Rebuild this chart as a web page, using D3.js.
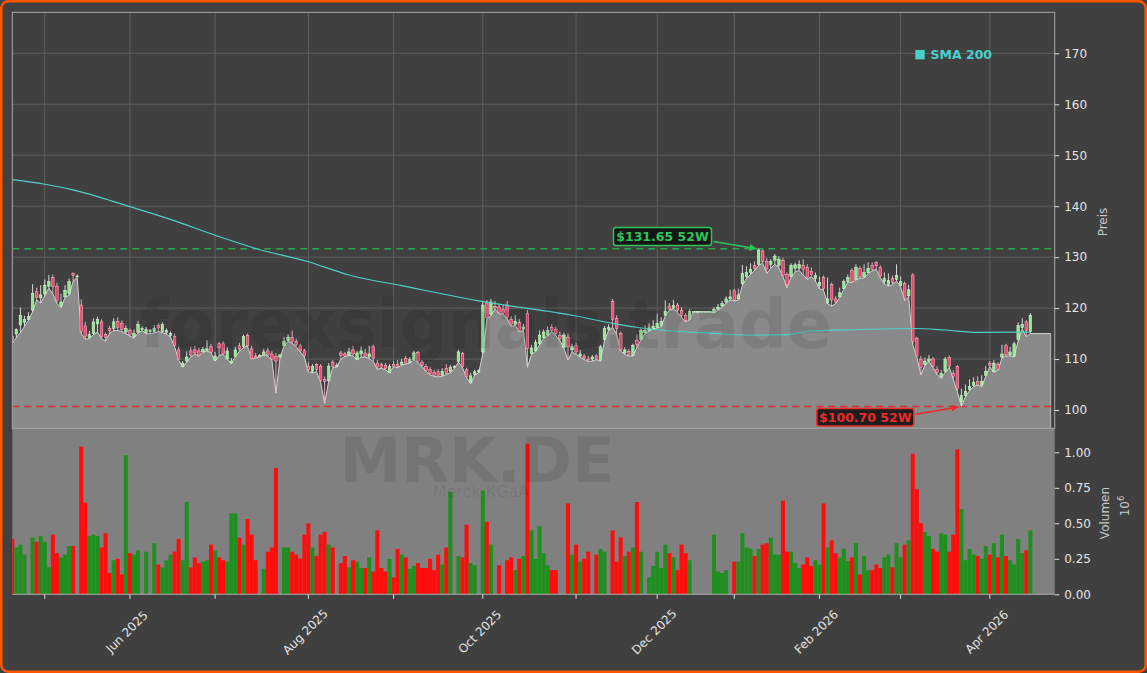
<!DOCTYPE html>
<html><head><meta charset="utf-8">
<script src="https://cdn.jsdelivr.net/npm/d3@7"></script>
<style>
html,body{margin:0;padding:0;background:#404040;}
svg{display:block;font-family:"DejaVu Sans",sans-serif;}
</style></head><body>
<svg id="chart" width="1147" height="673"></svg>
<script>
// ---------------- DATA ----------------
const opens = [
114.4,114.9,116.7,117.2,117.8,119.6,123.2,122.0,122.8,124.3,
126.0,124.3,120.5,122.2,122.9,126.8,126.2,120.6,116.5,114.2,
115.0,116.9,117.3,114.8,116.0,116.0,117.4,117.0,115.3,115.6,
114.4,115.3,115.8,115.2,115.4,115.4,116.6,115.4,115.2,114.6,
114.4,111.8,108.6,109.6,111.6,111.8,111.6,111.4,111.7,112.4,
109.8,113.0,113.0,110.0,109.2,110.5,112.6,112.5,114.6,112.0,
110.6,110.5,110.8,111.6,111.0,110.5,110.4,112.6,113.6,114.2,
113.4,112.6,111.6,108.6,107.6,108.9,108.6,106.0,105.7,109.4,
108.6,111.2,111.0,110.8,111.8,109.9,111.0,111.2,110.4,112.4,
109.2,108.9,108.8,107.4,108.9,109.0,108.9,110.1,109.3,109.9,
111.3,109.4,108.5,108.0,107.4,107.5,106.8,108.2,107.6,108.4,
109.5,111.1,107.9,105.4,107.0,107.5,111.4,121.0,118.8,120.3,
120.2,119.8,120.6,117.8,116.8,117.2,115.9,119.0,111.1,111.6,
113.0,114.2,114.7,116.2,115.8,114.6,112.3,114.3,111.8,112.6,
110.6,110.6,110.0,110.0,110.6,109.7,113.8,115.8,121.3,118.0,
115.0,111.2,111.5,110.7,113.7,113.9,115.2,115.6,116.0,116.2,
116.6,118.6,120.4,120.0,120.6,119.5,118.6,117.8,119.3,119.3,
119.3,119.3,119.3,119.2,119.8,120.4,121.2,121.8,123.4,121.8,
124.8,126.2,127.0,128.4,128.6,131.2,129.2,128.6,129.4,128.4,
129.4,126.6,126.2,127.8,127.8,128.4,128.0,127.2,125.8,124.4,
126.0,121.0,124.6,121.8,122.2,123.8,125.2,127.4,125.6,127.8,
126.1,127.0,128.4,129.0,128.0,125.2,124.6,125.8,125.6,124.4,
124.8,122.4,126.5,114.1,110.0,108.9,109.6,110.0,108.0,106.6,
107.6,110.3,107.2,108.5,101.6,102.8,104.0,104.8,105.6,104.9,
106.8,109.2,107.6,109.0,110.4,112.6,110.8,110.6,113.8,116.2,
117.3,115.4];
const highs = [
115.0,116.0,120.1,118.5,119.2,124.7,124.0,124.5,125.6,126.5,
126.6,125.0,122.8,124.5,125.8,127.0,126.6,121.7,117.3,115.5,
118.0,118.3,117.8,115.2,116.5,118.0,118.2,117.6,116.6,116.0,
115.8,117.5,116.4,116.3,115.9,116.6,117.0,117.2,116.0,115.4,
115.0,112.4,109.6,111.5,112.4,112.6,112.2,112.4,113.7,113.0,
111.4,113.3,113.5,112.3,110.2,112.4,113.2,114.8,115.0,112.6,
111.2,111.0,112.0,112.2,111.6,111.2,111.0,114.3,114.8,115.6,
114.0,113.0,112.0,109.4,109.0,109.2,109.0,106.6,109.2,109.8,
109.2,111.6,111.4,112.2,112.6,111.6,112.5,112.0,112.6,112.8,
109.8,109.3,109.2,109.0,109.6,109.8,110.0,110.6,110.4,111.6,
111.6,109.8,109.0,108.4,107.9,108.0,108.2,109.0,108.8,108.8,
111.8,111.4,108.3,107.3,107.9,108.0,121.4,121.6,121.8,121.4,
120.8,120.6,121.4,118.4,118.6,117.8,116.9,119.6,112.8,113.8,
115.6,115.8,116.4,116.8,116.4,115.4,115.2,115.0,113.0,113.2,
111.8,111.0,110.6,110.8,111.0,112.8,116.5,116.8,121.8,118.6,
115.4,112.3,112.0,113.0,114.8,116.0,116.6,117.0,117.6,118.9,
118.2,121.5,121.0,121.6,121.0,120.2,119.0,119.8,119.3,119.3,
119.3,119.3,119.3,120.2,120.8,121.4,122.3,123.6,123.8,123.8,
128.5,128.2,128.8,129.2,131.65,131.5,129.8,129.6,130.6,130.2,
129.9,127.0,128.8,128.9,129.4,129.6,128.6,128.0,127.0,126.2,
126.4,126.0,125.0,122.4,124.0,125.6,126.6,127.8,128.6,128.2,
128.6,129.0,129.0,129.2,128.4,127.0,126.8,126.4,128.6,126.2,
125.2,124.6,126.8,114.4,110.6,110.3,110.8,110.4,108.6,107.8,
110.4,110.7,107.8,108.8,104.2,105.0,106.0,106.4,106.6,106.8,
108.6,109.6,109.8,109.4,112.8,113.0,112.4,113.4,117.2,118.0,
117.6,119.0];
const lows = [
113.1,114.2,115.2,116.4,117.6,119.3,121.6,121.0,122.4,123.9,
122.8,120.9,120.1,122.1,122.5,125.3,126.0,115.0,113.9,114.0,
114.8,115.3,114.0,113.5,115.1,115.6,115.6,115.4,115.0,114.5,
114.1,115.1,115.6,115.0,115.0,115.1,115.4,115.2,114.9,114.3,
112.5,109.8,108.4,109.4,110.4,111.0,110.5,111.3,111.6,111.2,
109.6,110.7,110.9,110.0,109.1,110.5,111.5,112.3,112.5,110.0,
110.2,110.4,110.8,110.6,109.8,103.3,110.2,112.5,113.5,113.1,
112.4,111.4,110.4,107.5,107.3,107.5,105.5,101.3,105.6,108.3,
108.4,110.0,110.5,110.7,110.6,109.8,110.4,110.4,110.1,109.5,
108.0,108.2,107.9,107.3,108.5,108.3,108.8,109.0,109.2,109.8,
109.3,108.6,107.6,106.9,106.6,106.5,106.6,107.0,107.3,108.2,
109.4,108.3,106.4,105.2,106.8,107.3,111.0,117.7,118.6,119.8,
118.9,118.8,117.9,116.4,116.6,115.3,115.7,108.4,110.9,111.5,
112.8,114.1,114.5,115.4,114.6,113.6,112.2,109.8,111.4,110.9,
110.4,109.9,109.5,109.6,109.9,109.6,113.6,115.6,116.2,114.9,
111.6,110.9,110.6,110.6,112.3,113.8,115.0,115.5,115.9,116.1,
116.4,118.5,119.6,119.9,119.1,118.2,117.3,117.7,119.3,119.3,
119.3,119.3,119.3,119.1,119.6,120.2,121.0,121.6,121.4,121.6,
124.5,125.8,126.6,127.4,128.4,128.8,126.8,127.8,128.6,127.9,
126.2,124.0,126.0,127.1,127.4,126.5,125.6,126.2,125.3,123.8,
123.5,120.9,120.4,120.9,122.1,123.7,125.1,125.0,125.5,125.9,
125.9,126.8,127.3,127.6,126.0,124.7,124.3,124.6,125.3,124.2,
121.5,122.2,112.8,110.4,106.9,108.8,109.5,108.4,107.0,106.2,
107.4,108.4,106.0,103.6,100.7,102.6,103.8,104.6,104.9,104.6,
106.6,108.5,107.4,107.8,110.2,110.6,110.6,110.4,113.6,115.9,
114.4,115.0];
const closes = [
113.6,115.8,118.6,117.8,118.4,122.9,122.1,122.6,124.5,125.2,
124.2,121.5,121.2,123.5,125.2,126.4,126.3,115.4,114.4,114.8,
117.3,117.8,114.4,114.2,115.6,117.3,116.2,115.8,116.0,114.8,
115.0,116.8,116.0,115.8,115.6,116.0,116.1,116.8,115.6,115.0,
112.7,110.0,109.2,110.4,110.8,111.2,110.8,111.9,112.0,111.3,
110.6,112.2,111.0,111.6,109.6,111.8,112.0,114.4,112.6,110.1,
110.3,110.7,111.4,110.8,110.0,109.6,110.8,113.4,114.3,113.4,
112.9,111.6,110.6,107.9,108.6,108.0,105.8,105.6,108.6,108.6,
108.8,110.7,110.6,111.4,111.0,111.2,111.6,110.6,111.0,110.2,
108.4,108.4,108.1,108.5,108.6,108.6,109.4,109.2,109.9,111.2,
109.6,108.8,107.8,107.2,106.8,106.8,107.6,107.2,108.4,108.5,
111.4,108.5,106.6,106.7,107.5,107.7,120.6,118.2,121.2,120.0,
119.2,119.0,118.2,116.8,117.4,115.6,116.3,112.1,112.2,113.2,
114.7,115.3,115.6,115.6,115.0,114.0,114.7,112.4,112.4,111.4,
111.0,110.2,109.8,110.4,110.1,112.4,116.0,116.2,117.8,116.0,
111.8,111.8,110.9,112.7,112.9,115.6,115.6,116.1,116.4,117.0,
117.4,119.4,119.8,120.5,119.6,118.6,117.6,119.3,119.3,119.3,
119.3,119.3,119.3,119.7,120.2,120.9,121.8,122.2,121.6,122.6,
126.8,127.0,127.6,127.8,131.4,129.2,127.7,129.2,130.2,129.6,
126.4,124.6,128.4,128.5,128.6,127.6,126.0,126.6,126.4,125.0,
123.8,121.8,121.6,121.2,123.0,125.2,126.0,125.2,128.0,126.1,
127.0,127.8,127.6,128.3,126.3,125.8,125.4,125.0,126.4,125.2,
122.0,123.6,113.4,110.6,108.4,109.6,110.0,108.6,107.4,107.2,
110.0,108.6,106.6,104.2,102.8,103.6,104.6,105.4,105.0,105.6,
107.6,108.8,109.2,108.0,111.0,110.8,111.4,113.0,116.6,116.8,
115.6,118.6];
// volume in millions
const volumes = [
0.39,0.33,0.35,0.28,0,0.40,0.37,0.41,0.37,0.19,
0.42,0.29,0.26,0.28,0.34,0.34,0,1.04,0.645,0.41,
0.42,0.41,0.33,0.43,0.15,0.24,0.25,0.14,0.98,0.29,
0.28,0.31,0,0.30,0,0.36,0.21,0.19,0.24,0.28,
0.30,0.39,0.24,0.65,0.19,0.26,0.22,0.23,0.24,0.35,
0.31,0.26,0.24,0.23,0.57,0.57,0.40,0.35,0.53,0.42,
0.24,0,0.18,0.30,0.33,0.89,0,0.33,0.33,0.30,
0.28,0.25,0.42,0.50,0.33,0.27,0.42,0.44,0.35,0.33,
0,0.22,0.27,0.19,0.24,0.23,0.185,0.185,0.26,0.16,
0.45,0.185,0.16,0.25,0.12,0.32,0.28,0.26,0.18,0.20,
0.22,0.185,0.185,0.25,0.17,0.28,0.21,0.33,0.72,0,
0.27,0.26,0.49,0.22,0.205,0,0.73,0.51,0.35,0,
0.205,0,0.24,0.26,0.17,0.25,0.27,1.06,0.45,0.25,
0.48,0.29,0.205,0.17,0.17,0,0,0.64,0.28,0.35,
0.23,0.25,0.30,0,0.28,0.32,0.30,0,0.45,0.23,
0.40,0.27,0.30,0.33,0.65,0.30,0,0.12,0.20,0.30,
0.185,0.35,0.29,0.26,0.17,0.35,0.29,0.24,0,0,
0,0,0,0.42,0.16,0.15,0.17,0,0.23,0.23,
0.43,0.33,0.32,0.27,0.32,0.35,0.36,0.40,0.28,0.28,
0.66,0.30,0.30,0.22,0.185,0.21,0.26,0.20,0.24,0.21,
0.64,0.33,0.38,0.29,0.26,0.32,0.235,0.26,0.36,0.14,
0.27,0.17,0.17,0.21,0.185,0.26,0.28,0.19,0.36,0.26,
0.35,0.38,0.99,0.74,0.50,0.44,0.41,0.32,0.30,0.43,
0.42,0.30,0.42,1.02,0.60,0.24,0.32,0.28,0.27,0.25,
0.34,0.28,0.36,0.26,0.42,0.27,0.24,0.21,0.39,0.29,
0.31,0.45];
// SMA 200 read at selected bar positions
const smaIdx  = [0,8,15,29,39,50,60,73,83,96,115,140,148,156,173,181,191,197,209,222,230,238,251];
const smaVals = [145.2,144.3,143.2,139.9,137.4,134.3,131.7,129.1,126.5,124.4,121.4,118.3,117.0,116.0,115.05,114.7,114.8,115.5,115.8,116.0,115.7,115.25,115.3];
// month ticks (bar index of first trading day)
const tickIdx    = [8,29,50,73,94,116,139,159,178,199,219,241];
const tickLabels = ["","Jun 2025","","Aug 2025","","Oct 2025","","Dec 2025","","Feb 2026","","Apr 2026"];
const priceTicks = [100,110,120,130,140,150,160,170];
const volTicks   = [0,0.25,0.5,0.75,1.0];
const volTickLabels = ["0.00","0.25","0.50","0.75","1.00"];
const high52 = 131.65, high52Idx = 184;
const low52 = 100.70, low52Idx = 234;
const areaEndIdx = 256;

// ---------------- LAYOUT ----------------
const L = 12.3, R = 1054.7, PT = 12.3, PB = 428.3, VB = 594.3;
const svg = d3.select("#chart");
const x = d3.scaleLinear().domain([0, 257]).range([L, R]);
const yP = d3.scaleLinear().domain([96.41, 178.05]).range([PB, PT]);
const yV = d3.scaleLinear().domain([0, 1.169]).range([VB, PB]);
const step = x(1) - x(0);

const defs = svg.append("defs");
defs.append("clipPath").attr("id","cp").append("rect").attr("x",L).attr("y",PT).attr("width",R-L).attr("height",PB-PT);
defs.append("clipPath").attr("id","cv").append("rect").attr("x",L).attr("y",PB).attr("width",R-L).attr("height",VB-PB);
function marker(id, color){
  defs.append("marker").attr("id",id).attr("viewBox","0 0 10 10").attr("refX",10).attr("refY",5)
    .attr("markerWidth",8).attr("markerHeight",7).attr("markerUnits","userSpaceOnUse").attr("orient","auto")
    .append("path").attr("d","M0,0 L10,5 L0,10 z").attr("fill",color);
}
marker("ag","#2fc45a"); marker("ar","#ee2a2a");

// background + orange frame
svg.append("rect").attr("x",1.25).attr("y",1.25).attr("width",1144.5).attr("height",670.5)
  .attr("rx",7).attr("fill","#404040").attr("stroke","#ff5500").attr("stroke-width",2.5);

// price grid
const gp = svg.append("g");
gp.selectAll(".hg").data(priceTicks).join("line")
  .attr("x1",L).attr("x2",R).attr("y1",d=>yP(d)).attr("y2",d=>yP(d))
  .attr("stroke","#5e5e5e").attr("stroke-width",1);
gp.selectAll(".vg").data(tickIdx).join("line")
  .attr("x1",d=>x(d)).attr("x2",d=>x(d)).attr("y1",PT).attr("y2",PB)
  .attr("stroke","#5e5e5e").attr("stroke-width",1);

// area under lows
const areaData = lows.map((v,i)=>({i, v})).concat([{i: areaEndIdx, v: lows[lows.length-1]}]);
const pc = svg.append("g").attr("clip-path","url(#cp)");
pc.append("path").datum(areaData)
  .attr("d", d3.area().x(d=>x(d.i)).y0(PB+2).y1(d=>yP(d.v)))
  .attr("fill","#8a8a8a");
pc.append("path").datum(areaData)
  .attr("d", d3.line().x(d=>x(d.i)).y(d=>yP(d.v)))
  .attr("fill","none").attr("stroke","#d2d2d2").attr("stroke-width",1);
pc.append("line").attr("x1",x(areaEndIdx)).attr("x2",x(areaEndIdx))
  .attr("y1",yP(lows[lows.length-1])).attr("y2",PB).attr("stroke","#b8b8b8").attr("stroke-width",1);

// volume panel
svg.append("rect").attr("x",L).attr("y",PB).attr("width",R-L).attr("height",VB-PB).attr("fill","#808080");
const vc = svg.append("g").attr("clip-path","url(#cv)");
vc.selectAll("rect.vb").data(volumes).join("rect")
  .attr("x",(d,i)=>x(i)-step/2).attr("width",step)
  .attr("y",d=>yV(d)).attr("height",d=>VB-yV(d))
  .attr("fill",(d,i)=> closes[i]>=opens[i] ? "#1f8f1f" : "#ff0d0d");

// 52W lines
pc.append("line").attr("x1",L).attr("x2",R).attr("y1",yP(high52)).attr("y2",yP(high52))
  .attr("stroke","#2aa84a").attr("stroke-width",1.5).attr("stroke-dasharray","7,5");
pc.append("line").attr("x1",L).attr("x2",R).attr("y1",yP(low52)).attr("y2",yP(low52))
  .attr("stroke","#d83030").attr("stroke-width",1.5).attr("stroke-dasharray","7,5");

// candles
const cg = pc.append("g");
const bw = 2.6;
opens.forEach((o,i)=>{
  const c = closes[i], up = c>=o;
  cg.append("line").attr("x1",x(i)).attr("x2",x(i)).attr("y1",yP(highs[i])).attr("y2",yP(lows[i]))
    .attr("stroke", up ? "#e6e6e6" : "#f2b8c6").attr("stroke-width",0.9);
  const top = yP(Math.max(o,c)), bot = yP(Math.min(o,c));
  cg.append("rect").attr("x",x(i)-bw/2).attr("width",bw).attr("y",top).attr("height",Math.max(0.8,bot-top))
    .attr("fill", up ? "#90e890" : "#ee4470").attr("stroke", up ? "#d8f8d8" : "#ffc0cc").attr("stroke-width",0.5);
});

// SMA 200
pc.append("path").datum(smaIdx.map((d,k)=>({i:d, v:smaVals[k]})))
  .attr("d", d3.line().x(d=>x(d.i)).y(d=>yP(d.v)).curve(d3.curveMonotoneX))
  .attr("fill","none").attr("stroke","#4fd0c8").attr("stroke-width",1.2);

// watermarks
svg.append("text").attr("x",486).attr("y",348).attr("text-anchor","middle")
  .attr("font-size",67).attr("font-weight","bold").attr("fill","#000").attr("fill-opacity",0.09)
  .text("forexsignals.trade");
svg.append("text").attr("x",477).attr("y",482).attr("text-anchor","middle")
  .attr("font-size",62).attr("font-weight","bold").attr("fill","#000").attr("fill-opacity",0.09)
  .text("MRK.DE");
svg.append("text").attr("x",481).attr("y",497).attr("text-anchor","middle")
  .attr("font-size",16).attr("fill","#000").attr("fill-opacity",0.09)
  .text("Merck KGaA");

// spines
svg.append("rect").attr("x",L).attr("y",PT).attr("width",R-L).attr("height",PB-PT)
  .attr("fill","none").attr("stroke","#a8a8a8").attr("stroke-width",1);
svg.append("line").attr("x1",L).attr("x2",R).attr("y1",VB).attr("y2",VB).attr("stroke","#a8a8a8");

// right price axis
const axP = svg.append("g").attr("transform",`translate(${R},0)`)
  .call(d3.axisRight(yP).tickValues(priceTicks).tickSize(4.5).tickPadding(5).tickFormat(d3.format("d")));
axP.select(".domain").remove();
axP.selectAll("line").attr("stroke","#dddddd");
axP.selectAll("text").attr("fill","#e4e4e4").attr("font-size",12).attr("font-family","DejaVu Sans");

// right volume axis
const axV = svg.append("g").attr("transform",`translate(${R},0)`)
  .call(d3.axisRight(yV).tickValues(volTicks).tickSize(4.5).tickPadding(5).tickFormat((d,k)=>volTickLabels[k]));
axV.select(".domain").remove();
axV.selectAll("line").attr("stroke","#dddddd");
axV.selectAll("text").attr("fill","#e4e4e4").attr("font-size",12).attr("font-family","DejaVu Sans");

// axis titles
svg.append("text").attr("transform","translate(1107,222) rotate(-90)").attr("text-anchor","middle")
  .attr("font-size",12).attr("fill","#c8c8c8").text("Preis");
svg.append("text").attr("transform","translate(1109,513) rotate(-90)").attr("text-anchor","middle")
  .attr("font-size",12).attr("fill","#c8c8c8").text("Volumen");
const t6 = svg.append("text").attr("transform","translate(1129,506) rotate(-90)").attr("text-anchor","middle")
  .attr("font-size",12).attr("fill","#c8c8c8");
t6.append("tspan").text("10");
t6.append("tspan").attr("dy",-5).attr("font-size",8.5).text("6");

// bottom date axis
const gx = svg.append("g");
gx.selectAll("line").data(tickIdx).join("line")
  .attr("x1",d=>x(d)).attr("x2",d=>x(d)).attr("y1",VB).attr("y2",VB+4.5).attr("stroke","#dddddd");
gx.selectAll("text").data(tickIdx.map((d,k)=>({d, t:tickLabels[k]})).filter(e=>e.t)).join("text")
  .attr("transform",e=>`translate(${x(e.d)-3},632) rotate(-45)`)
  .attr("text-anchor","middle").attr("dominant-baseline","central")
  .attr("font-size",12).attr("fill","#e4e4e4").text(e=>e.t);

// legend
svg.append("rect").attr("x",915.3).attr("y",50).attr("width",9.4).attr("height",9.4).attr("fill","#48d1cc");
svg.append("text").attr("x",930.5).attr("y",58.8).attr("font-size",12.5).attr("font-weight","bold")
  .attr("fill","#48d1cc").text("SMA 200");

// annotations
function annot(txt, cx, cy, w, h, color, tx, ty, mk){
  const g = svg.append("g");
  g.append("line").attr("x1",cx+w/2+2).attr("y1",cy+(ty>cy?5:-3)).attr("x2",tx).attr("y2",ty)
    .attr("stroke",color).attr("stroke-width",1.6).attr("marker-end",`url(#${mk})`);
  g.append("rect").attr("x",cx-w/2).attr("y",cy-h/2).attr("width",w).attr("height",h).attr("rx",2.5)
    .attr("fill","#111").attr("fill-opacity",0.9).attr("stroke",color).attr("stroke-width",1.5);
  g.append("text").attr("x",cx).attr("y",cy).attr("text-anchor","middle").attr("dominant-baseline","central")
    .attr("font-size",12.5).attr("font-weight","bold").attr("fill",color).text(txt);
}
annot("$" + high52.toFixed(2) + " 52W", 662.5, 236.5, 98, 18, "#2fc45a", x(high52Idx)-2, yP(high52), "ag");
annot("$" + low52.toFixed(2) + " 52W", 865.3, 417.2, 97, 17.5, "#ee2a2a", x(low52Idx)-3, yP(low52)+0.5, "ar");
</script>
</body></html>
